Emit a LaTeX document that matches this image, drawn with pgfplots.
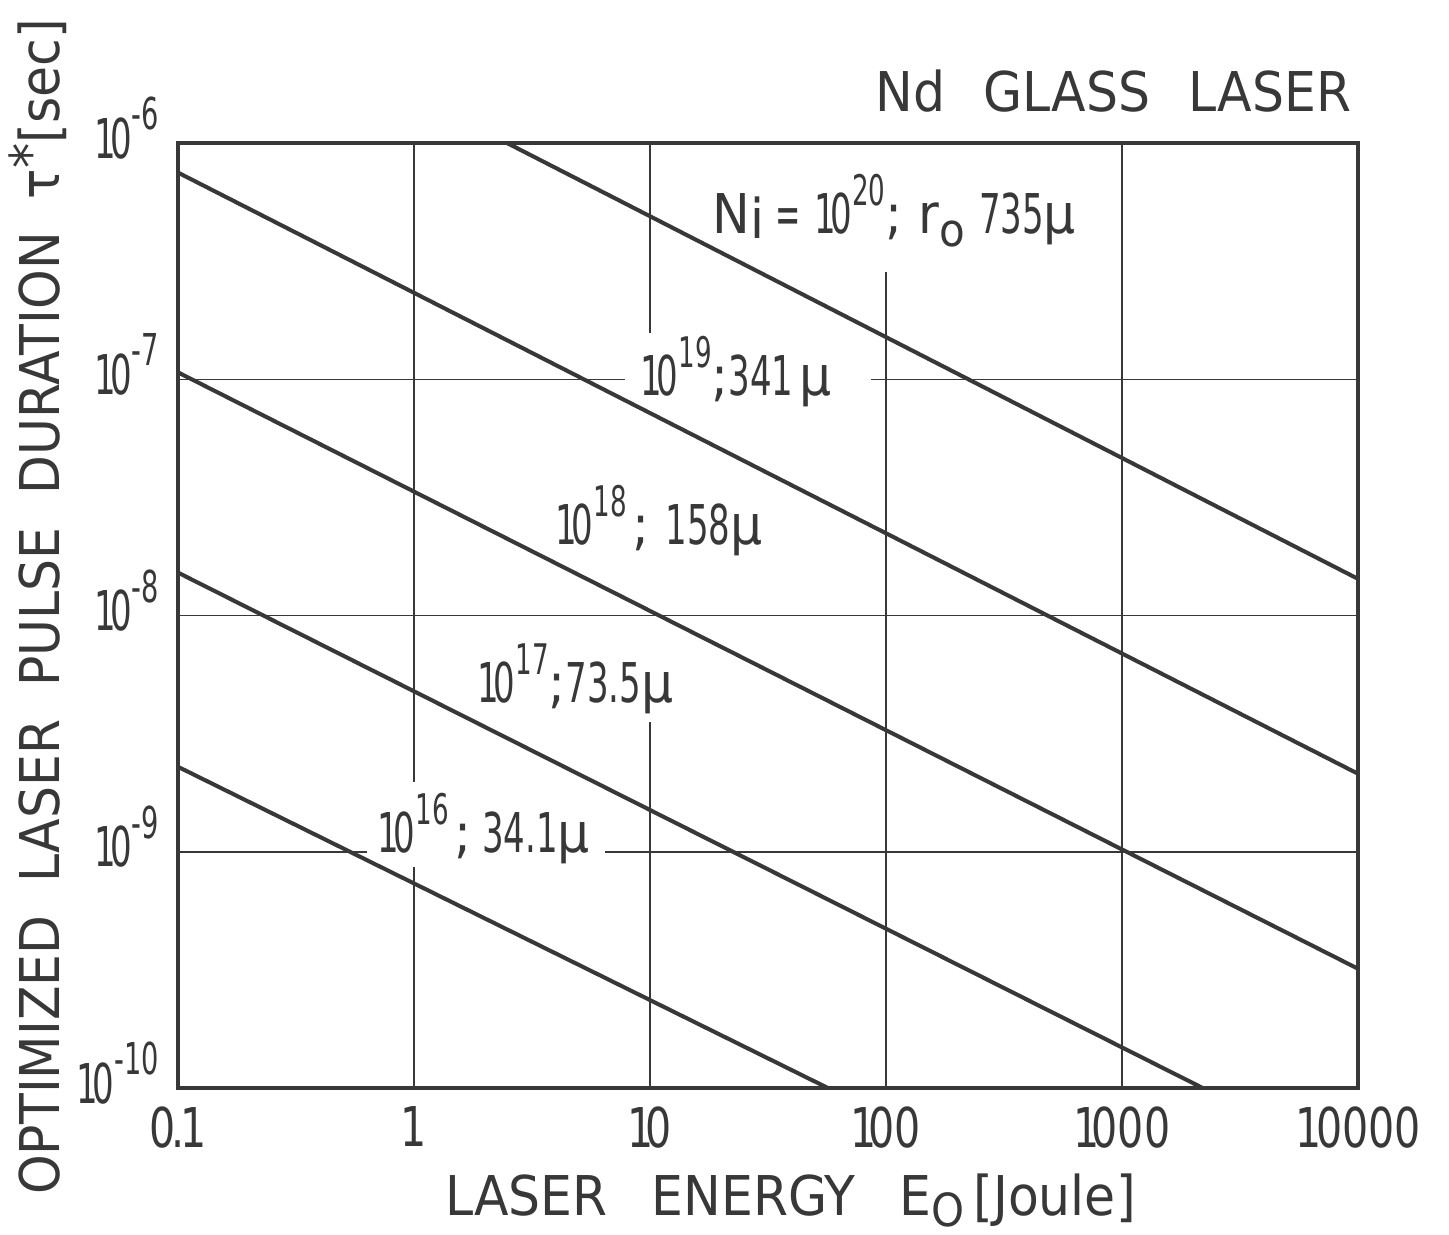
\documentclass[border=0pt]{standalone}
\usepackage{fontspec}
\usepackage{graphicx}
\setmainfont{DejaVu Sans}[FakeStretch=0.92]
\newfontfamily\tickfont{DejaVu Sans}[FakeStretch=0.75]
\newfontfamily\numfont{DejaVu Sans}[FakeStretch=0.62]
\usepackage{pgfplots}
\pgfplotsset{compat=1.18}
\definecolor{ink}{rgb}{0.22,0.22,0.22}
\newcommand\mainsize{\fontsize{15.6}{18}\selectfont}
\newcommand\ten{{\numfont 1\kern-0.1em 0}}
\newcommand\sups[1]{\raisebox{0.5em}{\fontsize{12}{12}\numfont #1}}
\newcommand\ysups[1]{\raisebox{0.52em}{\fontsize{12.5}{12.5}\numfont #1}}
\newcommand\num[1]{{\numfont #1}}
\newcommand\wsp[1]{\hspace{#1em}}
\begin{document}
\mainsize
\begin{tikzpicture}
\begin{axis}[
  at={(0,0)}, anchor=south west,
  scale only axis, width=11.8cm, height=9.45cm,
  xmode=log, ymode=log,
  xmin=0.1, xmax=10000, ymin=1e-10, ymax=1e-6,
  xtick={0.1,1,10,100,1000,10000},
  xticklabels={0\kern-0.08em.\kern-0.08em1,1,1\kern-0.15em0,1\kern-0.15em00,1\kern-0.15em000,1\kern-0.1em0000},
  ytick={1e-10,1e-9,1e-8,1e-7,1e-6},
  yticklabels={\ten\ysups{-10},\ten\ysups{-9},\ten\ysups{-8},\ten\ysups{-7},\ten\ysups{-6}},
  xminorticks=false, yminorticks=false,
  major tick length=0pt,
  axis line style={line width=0.9pt, draw=ink},
  every tick label/.append style={font=\tickfont\mainsize, text=ink},
  xticklabel style={yshift=0pt},
  yticklabel style={anchor=base east, yshift=-0.15cm},
  every axis title shift=0pt,
  title={Nd\wsp{0.7}GLASS\wsp{0.7}LASER},
  title style={at={(axis description cs:0.995,1.033)}, anchor=base east, inner sep=0pt, font=\mainsize, text=ink},
  xlabel={LASER\wsp{0.8}ENERGY\wsp{0.8}E\raisebox{-0.2em}{\fontsize{13}{13}\selectfont O}\,[Joule]},
  xlabel style={at={(axis description cs:0.519,-0.1344)}, anchor=base, inner sep=0pt, font=\mainsize, text=ink},
  ylabel={OPTIMIZED\wsp{0.6}LASER\wsp{0.6}PULSE\wsp{0.6}DURATION\wsp{0.6}τ\raisebox{0.2em}{*}[sec]},
  ylabel style={at={(axis description cs:-0.1,0.509)}, anchor=base, inner sep=0pt, font=\mainsize, text=ink},
]
% grid lines with the gaps left for the labels
\draw[line width=0.45pt, ink] (axis cs:1,1e-6) -- (axis cs:1,1.97e-9);
\draw[line width=0.45pt, ink] (axis cs:1,8.62e-10) -- (axis cs:1,1e-10);
\draw[line width=0.45pt, ink] (axis cs:10,1e-6) -- (axis cs:10,1.57e-7);
\draw[line width=0.45pt, ink] (axis cs:10,3.54e-9) -- (axis cs:10,1e-10);
\draw[line width=0.45pt, ink] (axis cs:100,2.84e-7) -- (axis cs:100,1e-10);
\draw[line width=0.45pt, ink] (axis cs:1000,1e-6) -- (axis cs:1000,1e-10);
\draw[line width=0.45pt, ink] (axis cs:0.1,1e-7) -- (axis cs:7.83,1e-7);
\draw[line width=0.45pt, ink] (axis cs:86.3,1e-7) -- (axis cs:10000,1e-7);
\draw[line width=0.45pt, ink] (axis cs:0.1,1e-8) -- (axis cs:10000,1e-8);
\draw[line width=0.45pt, ink] (axis cs:0.1,1e-9) -- (axis cs:0.633,1e-9);
\draw[line width=0.45pt, ink] (axis cs:6.44,1e-9) -- (axis cs:10000,1e-9);

\addplot[line width=1.15pt, ink] coordinates {(2.48,1e-6) (10000,1.43e-8)};
\addplot[line width=1.15pt, ink] coordinates {(0.1,7.5e-7) (10000,2.14e-9)};
\addplot[line width=1.15pt, ink] coordinates {(0.1,1.07e-7) (10000,3.2e-10)};
\addplot[line width=1.15pt, ink] coordinates {(0.1,1.52e-8) (2200,1e-10)};
\addplot[line width=1.15pt, ink] coordinates {(0.1,2.29e-9) (56.8,1e-10)};

\node[anchor=base west, inner sep=0pt, font=\mainsize, text=ink] at (rel axis cs:0.4525,0.9048)
  {N\raisebox{-0.1em}{i}\hspace{0.2em}\scalebox{0.6}[1]{=}\hspace{0.25em}\ten\sups{20};\hspace{0.3em}r\raisebox{-0.25em}{\fontsize{13}{13}\selectfont o}\hspace{0.25em}\num{735}µ};
\node[anchor=base west, inner sep=0pt, font=\mainsize, text=ink] at (rel axis cs:0.3915,0.7333)
  {\ten\sups{19};\num{341}\hspace{0.1em}µ};
\node[anchor=base west, inner sep=0pt, font=\mainsize, text=ink] at (rel axis cs:0.3195,0.5757)
  {\ten\sups{18}\hspace{0.1em};\hspace{0.3em}\num{158}µ};
\node[anchor=base west, inner sep=0pt, font=\mainsize, text=ink] at (rel axis cs:0.2534,0.4085)
  {\ten\sups{17};\num{73.5}µ};
\node[anchor=base west, inner sep=0pt, font=\mainsize, text=ink] at (rel axis cs:0.1686,0.2497)
  {\ten\sups{16}\hspace{0.1em};\hspace{0.2em}\num{34.1}µ};
\end{axis}
\pgfresetboundingbox
\path (-1.78,-1.46) rectangle (12.71,10.88);
\end{tikzpicture}
\end{document}
